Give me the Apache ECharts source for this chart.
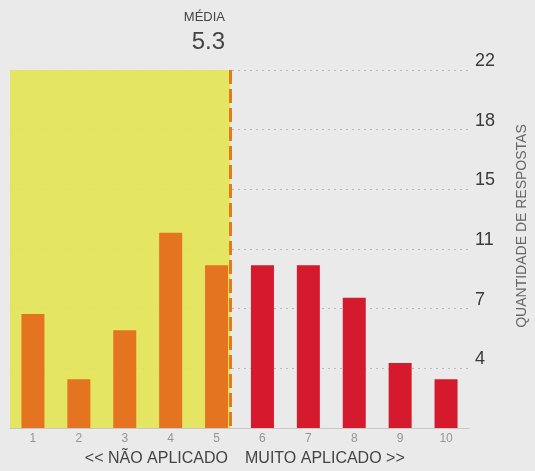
<!DOCTYPE html>
<html>
<head>
<meta charset="utf-8">
<script src="https://cdn.jsdelivr.net/npm/echarts@6/dist/echarts.min.js"></script>
<style>
  html, body { margin: 0; padding: 0; background: #eaeaea; }
  #chart { width: 535px; height: 471px; }
</style>
</head>
<body>
<div id="chart"></div>
<script>
var categories = ['1', '2', '3', '4', '5', '6', '7', '8', '9', '10'];
var answers = [7, 3, 6, 12, 10, 10, 10, 8, 4, 3];
var mean = 5.3;
var yMax = 22;

var chart = echarts.init(document.getElementById('chart'));

// orange below the mean, red above it
var barData = answers.map(function (v, i) {
    return {
        value: v,
        itemStyle: { color: (i + 1) < mean ? '#e4741f' : '#d41a2c' }
    };
});

var font = 'Liberation Sans';

option = {
    backgroundColor: '#eaeaea',
    animation: false,
    textStyle: { fontFamily: font },
    grid: { left: 10, right: 66, top: 70, bottom: 43 },
    xAxis: [
        {
            type: 'category',
            data: categories,
            axisLine: { lineStyle: { color: '#c8c8c8', width: 1 } },
            axisTick: { show: false },
            axisLabel: { color: '#959595', fontSize: 12, margin: 5 }
        },
        {
            type: 'value',
            min: 0.5,
            max: 10.5,
            show: false
        }
    ],
    yAxis: {
        type: 'value',
        position: 'right',
        min: 0,
        max: yMax,
        interval: yMax / 6,
        axisLine: { show: false },
        axisTick: { show: false },
        axisLabel: {
            color: '#3a3a3a',
            fontSize: 18,
            margin: 6,
            verticalAlign: 'bottom',
            formatter: function (v) { return v === 0 ? '' : Math.round(v); }
        },
        splitLine: { lineStyle: { color: '#b8b8b8', type: [2, 4], width: 1 } }
    },
    graphic: [
        {
            type: 'text', x: 225, y: 17,
            style: { text: 'MÉDIA', fill: '#444', fontSize: 13, fontFamily: font, align: 'right', verticalAlign: 'middle' }
        },
        {
            type: 'text', x: 225, y: 42,
            style: { text: mean.toFixed(1), fill: '#444', fontSize: 24, fontFamily: font, align: 'right', verticalAlign: 'middle' }
        },
        {
            type: 'text', x: 228, y: 459,
            style: { text: '<< NÃO APLICADO', fill: '#444', fontSize: 16, fontFamily: font, align: 'right', verticalAlign: 'middle' }
        },
        {
            type: 'text', x: 245, y: 459,
            style: { text: 'MUITO APLICADO >>', fill: '#444', fontSize: 16, fontFamily: font, align: 'left', verticalAlign: 'middle' }
        },
        {
            type: 'text', x: 522, y: 226, rotation: Math.PI / 2,
            style: {
                text: 'QUANTIDADE DE RESPOSTAS', fill: '#666', fontSize: 14,
                fontFamily: font, align: 'center', verticalAlign: 'middle'
            }
        }
    ],
    series: [
        {
            type: 'line',
            xAxisIndex: 1,
            data: [],
            silent: true,
            markArea: {
                silent: true,
                itemStyle: { color: 'rgba(226,228,88,0.93)' },
                data: [[{ xAxis: 0.5, yAxis: yMax }, { xAxis: mean, yAxis: 0 }]]
            },
            markLine: {
                silent: true,
                symbol: 'none',
                label: { show: false },
                lineStyle: { color: '#e07c1b', type: [14, 5], width: 3 },
                data: [[{ xAxis: mean, yAxis: yMax }, { xAxis: mean, yAxis: 0 }]]
            }
        },
        {
            type: 'bar',
            data: barData,
            barWidth: 23,
            z: 3
        }
    ]
};
chart.setOption(option);
</script>
</body>
</html>
